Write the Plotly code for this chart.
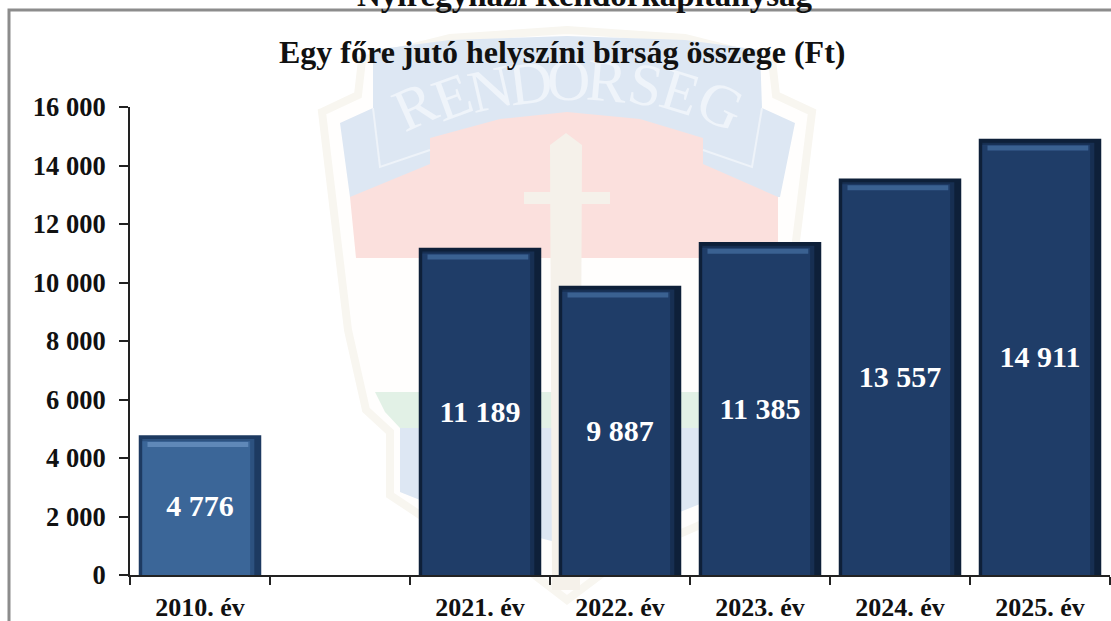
import plotly.graph_objects as go

categories = ["2010. év", " ", "2021. év", "2022. év", "2023. év", "2024. év", "2025. év"]
values = [4776, None, 11189, 9887, 11385, 13557, 14911]
y_ticks = [0, 2000, 4000, 6000, 8000, 10000, 12000, 14000, 16000]

TITLE = "Egy főre jutó helyszíni bírság összege (Ft)"
HEADER = "Nyíregyházi Rendőrkapitányság"
FONT = "Liberation Serif"
W, H = 1111, 621
L, R, T, B = 130, 1110, 107, 575


def fmt(v):
    return f"{v:,}".replace(",", " ")


def px(x):
    return (x - L) / (R - L)


def py(y):
    return (B - y) / (B - T)


def poly(points, fill, line=None, width=0, closed=True):
    d = "M " + " L ".join(f"{px(x):.5f},{py(y):.5f}" for x, y in points) + (" Z" if closed else "")
    return dict(type="path", path=d, xref="paper", yref="paper", layer="below",
                fillcolor=fill if closed else "rgba(0,0,0,0)",
                line=dict(color=line or "rgba(0,0,0,0)", width=width))


shapes = [
    # watermark: outer outline
    poly([(322, 112), (358, 95), (362, 60), (450, 38), (567, 30), (685, 38), (772, 60), (776, 95), (812, 112),
          (785, 330), (770, 410), (745, 432), (745, 495), (700, 525), (620, 560), (567, 600),
          (515, 560), (435, 525), (390, 495), (390, 432), (366, 410), (348, 330)],
         "#fffefd", "#f8f6f0", 8),
    # blue wings and banner
    poly([(340, 123), (373, 108), (373, 50), (450, 40), (567, 36), (685, 40), (760, 50), (762, 108), (795, 123),
          (780, 197), (350, 197)], "#dde7f3"),
    # red field
    poly([(350, 197), (430, 164), (430, 138), (500, 119), (567, 112), (640, 119), (703, 138), (703, 164),
          (778, 197), (778, 258), (356, 258)], "#fbe0dd"),
    # banner outline
    poly([(373, 108), (380, 167), (430, 150)], "", "#eef3f9", 2, closed=False),
    poly([(762, 108), (752, 167), (703, 150)], "", "#eef3f9", 2, closed=False),
    # green field
    poly([(375, 392), (760, 392), (745, 412), (730, 428), (400, 428), (385, 412)], "#e2f1e6"),
    # blue lower field
    poly([(400, 428), (730, 428), (730, 492), (660, 520), (567, 545), (470, 520), (400, 492)], "#dde7f3"),
    # sword and hilt
    poly([(550, 145), (566, 133), (582, 145), (580, 590), (552, 590)], "#f5f1ea"),
    poly([(524, 192), (610, 192), (610, 204), (524, 204)], "#f5f1ea"),
    # frame
    dict(type="rect", xref="paper", yref="paper", layer="below",
         x0=px(9), x1=px(1125), y0=py(640), y1=py(10),
         line=dict(color="#8c8c8c", width=3), fillcolor="rgba(0,0,0,0)"),
]

letters = [("R", 415, 106, -24), ("E", 452, 97, -20), ("N", 490, 89, -13), ("D", 530, 83, -7),
           ("O", 568, 80, 0), ("R", 607, 81, 5), ("S", 645, 85, 11), ("E", 680, 92, 17), ("G", 720, 105, 24)]
annotations = [
    dict(text=c, x=px(x), y=py(y), xref="paper", yref="paper", showarrow=False, textangle=a,
         font=dict(family=FONT, size=60, color="#eff4fa"), xanchor="center", yanchor="middle")
    for c, x, y, a in letters
]
annotations += [
    dict(text=HEADER, x=px(585), y=py(9), xref="paper", yref="paper", showarrow=False,
         font=dict(family=FONT, size=33, color="#111", weight=700), xanchor="center", yanchor="bottom", yshift=-6),
    dict(text=TITLE, x=px(562), y=py(52), xref="paper", yref="paper", showarrow=False,
         font=dict(family=FONT, size=32, color="#111", weight=700), xanchor="center", yanchor="middle"),
]

is_first = [i == 0 for i in range(len(values))]

fig = go.Figure()
# outer dark bevel
fig.add_bar(x=categories, y=values, width=0.875,
            marker=dict(color=["#1d3a61" if f else "#0e2039" for f in is_first], line_width=0), hoverinfo="skip")
# mid shade
fig.add_bar(x=categories, y=[v - 130 if v else None for v in values], offset=-0.412, width=0.80,
            marker=dict(color=["#2d5280" if f else "#172f52" for f in is_first], line_width=0), hoverinfo="skip")
# face
fig.add_bar(x=categories, y=[v - 200 if v else None for v in values], offset=-0.412, width=0.77,
            marker=dict(color=["#3b6698" if f else "#1f3d68" for f in is_first], line_width=0), hoverinfo="skip")
# top highlight strip
fig.add_bar(x=categories, base=[v - 400 if v else None for v in values], y=[170 if v else None for v in values],
            offset=-0.375, width=0.72,
            marker=dict(color=["#5f88b8" if f else "#3a6191" for f in is_first], line_width=0), hoverinfo="skip")
# value labels, centred on the full bar
fig.add_bar(x=categories, y=values, width=0.875,
            marker=dict(color="rgba(0,0,0,0)", line_width=0),
            text=[fmt(v) if v else "" for v in values], textposition="inside", insidetextanchor="middle",
            textangle=0, constraintext="none",
            textfont=dict(family=FONT, size=30, color="white", weight=700), hoverinfo="skip")

fig.update_layout(
    width=W, height=H, barmode="overlay", showlegend=False,
    margin=dict(l=L, r=W - R, t=T, b=H - B),
    paper_bgcolor="white", plot_bgcolor="rgba(0,0,0,0)",
    font=dict(family=FONT, color="#111"),
    shapes=shapes, annotations=annotations,
    xaxis=dict(type="category", categoryorder="array", categoryarray=categories, automargin=False,
               tickson="boundaries", ticks="outside", ticklen=8, tickwidth=2, tickcolor="#222",
               showline=True, linecolor="#222", linewidth=2, showgrid=False, zeroline=False,
               ticklabelstandoff=8,
               tickfont=dict(family=FONT, size=26, color="#111", weight=700), tickangle=0),
    yaxis=dict(range=[0, 16000], tickvals=y_ticks, ticktext=[fmt(v) for v in y_ticks], automargin=False,
               ticks="outside", ticklen=9, tickwidth=2, tickcolor="#222",
               showline=True, linecolor="#222", linewidth=2, showgrid=False, zeroline=False,
               ticklabelstandoff=8,
               tickfont=dict(family=FONT, size=26.5, color="#111", weight=700)),
)

fig.write_html("out.html", config={"displayModeBar": False},
               post_script="document.body.style.margin='0';document.body.style.overflow='hidden';window.dispatchEvent(new Event('resize'));")
